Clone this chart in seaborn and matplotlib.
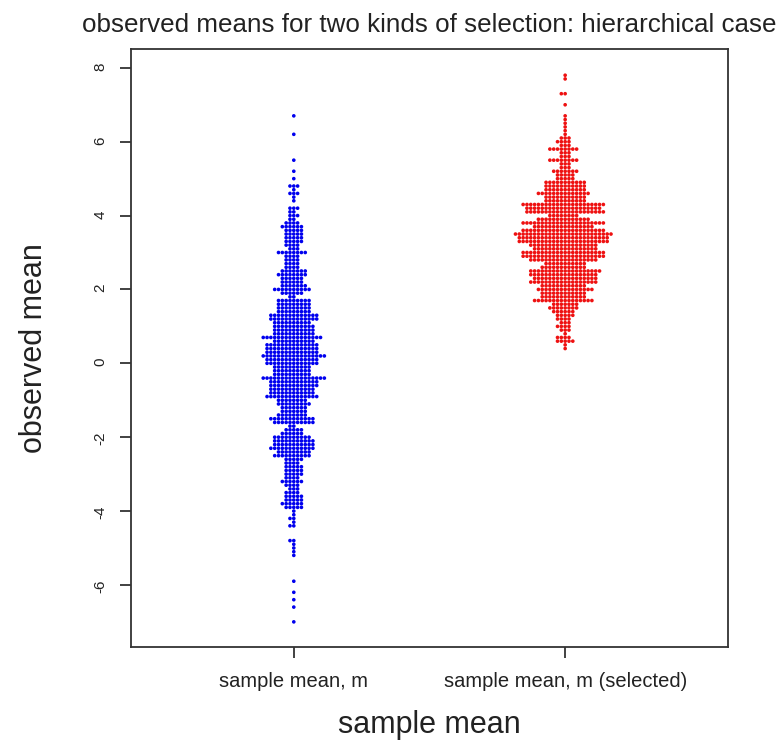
import matplotlib
matplotlib.use("Agg")
import matplotlib.pyplot as plt
import seaborn as sns
import numpy as np
import pandas as pd

# rows of the swarm: observed mean level and number of dots in that row
blue_levels = [-7.0, -6.6, -6.4, -6.2, -5.9,
               -5.2, -5.1, -5.0, -4.9, -4.8,
               -4.4, -4.3, -4.2, -4.1, -4.0,
               -3.9, -3.8, -3.7, -3.6, -3.5, -3.4, -3.3, -3.2, -3.1, -3.0,
               -2.9, -2.8, -2.7, -2.6, -2.5, -2.4, -2.3, -2.2, -2.1, -2.0,
               -1.9, -1.8, -1.7, -1.6, -1.5, -1.4, -1.3, -1.2, -1.1, -1.0,
               -0.9, -0.8, -0.7, -0.6, -0.5, -0.4, -0.3, -0.2, -0.1, 0.0,
               0.1, 0.2, 0.3, 0.4, 0.5, 0.6, 0.7, 0.8, 0.9, 1.0,
               1.1, 1.2, 1.3, 1.4, 1.5, 1.6, 1.7, 1.8, 1.9, 2.0,
               2.1, 2.2, 2.3, 2.4, 2.5, 2.6, 2.7, 2.8, 2.9, 3.0,
               3.1, 3.2, 3.3, 3.4, 3.5, 3.6, 3.7, 3.8, 3.9, 4.0,
               4.1, 4.2, 4.4, 4.5, 4.6, 4.7, 4.8, 5.0, 5.2, 5.5,
               6.2, 6.7]
blue_counts = [1, 1, 1, 1, 1,
               1, 1, 1, 1, 2,
               2, 1, 2, 1, 1,
               5, 6, 5, 5, 4, 3, 4, 6, 4, 5,
               5, 5, 4, 5, 10, 9, 12, 11, 11, 10,
               6, 5, 2, 11, 12, 8, 7, 7, 9, 8,
               14, 12, 12, 13, 13, 17, 10, 10, 10, 14,
               14, 17, 14, 14, 14, 11, 16, 11, 11, 11,
               10, 13, 13, 9, 9, 9, 9, 2, 6, 10,
               7, 6, 6, 8, 7, 4, 4, 4, 4, 8,
               3, 4, 5, 5, 5, 5, 6, 4, 2, 3,
               2, 3, 1, 1, 3, 1, 3, 1, 1, 1,
               1, 1]

red_levels = [0.4, 0.5, 0.6, 0.7, 0.8, 0.9, 1.0,
              1.1, 1.2, 1.3, 1.4, 1.5, 1.6, 1.7, 1.8, 1.9, 2.0,
              2.1, 2.2, 2.3, 2.4, 2.5, 2.6, 2.7, 2.8, 2.9, 3.0,
              3.1, 3.2, 3.3, 3.4, 3.5, 3.6, 3.7, 3.8, 3.9, 4.0,
              4.1, 4.2, 4.3, 4.4, 4.5, 4.6, 4.7, 4.8, 4.9, 5.0,
              5.1, 5.2, 5.3, 5.4, 5.5, 5.6, 5.7, 5.8, 5.9, 6.0,
              6.1, 6.2, 6.3, 6.4, 6.5, 6.6, 6.7, 7.0, 7.3, 7.7, 7.8]
red_counts = [1, 1, 5, 4, 1, 3, 4,
              3, 4, 5, 6, 8, 7, 16, 12, 12, 15,
              12, 18, 17, 18, 19, 12, 11, 18, 22, 22,
              17, 18, 24, 24, 26, 22, 16, 22, 14, 8,
              21, 20, 22, 11, 11, 14, 11, 11, 11, 5,
              5, 7, 3, 3, 8, 3, 3, 8, 3, 4,
              3, 1, 1, 1, 1, 1, 1, 1, 2, 1, 1]

groups = ["sample mean, m", "sample mean, m (selected)"]
colors = ["#0000ee", "#ee1111"]

df = pd.DataFrame({
    "group": [groups[0]] * sum(blue_counts) + [groups[1]] * sum(red_counts),
    "value": np.concatenate([np.repeat(blue_levels, blue_counts),
                             np.repeat(red_levels, red_counts)]),
})

sns.set_theme(style="ticks")
plt.rcParams["font.family"] = ["Liberation Sans", "DejaVu Sans"]

fig = plt.figure(figsize=(7.81, 7.47), dpi=100)
ax = fig.add_axes([0.1677, 0.1339, 0.7644, 0.8005])

sns.swarmplot(data=df, x="group", y="value", hue="group", order=groups,
              palette=colors, legend=False, size=2.62, linewidth=0, ax=ax)

ax.set_xlim(-0.6, 1.6)
ax.set_ylim(-7.68, 8.51)
ax.set_yticks([-6, -4, -2, 0, 2, 4, 6, 8])
ax.set_yticklabels(["-6", "-4", "-2", "0", "2", "4", "6", "8"])

for s in ax.spines.values():
    s.set_visible(True)
    s.set_color("#333333")
    s.set_linewidth(1.3)

ax.tick_params(axis="both", color="#333333", width=1.3, length=8, labelcolor="#222222")
ax.tick_params(axis="y", labelrotation=90, labelsize=11, pad=9)
ax.tick_params(axis="x", labelsize=14.5, pad=10)

ax.set_title("observed means for two kinds of selection: hierarchical case",
             fontsize=18.7, pad=12, color="#222222")
ax.set_xlabel("sample mean", fontsize=22, color="#222222")
ax.set_ylabel("observed mean", fontsize=22, color="#222222")
ax.xaxis.set_label_coords(0.5, -0.105)
ax.yaxis.set_label_coords(-0.137, 0.5)

fig.savefig("out.png", dpi=100)
